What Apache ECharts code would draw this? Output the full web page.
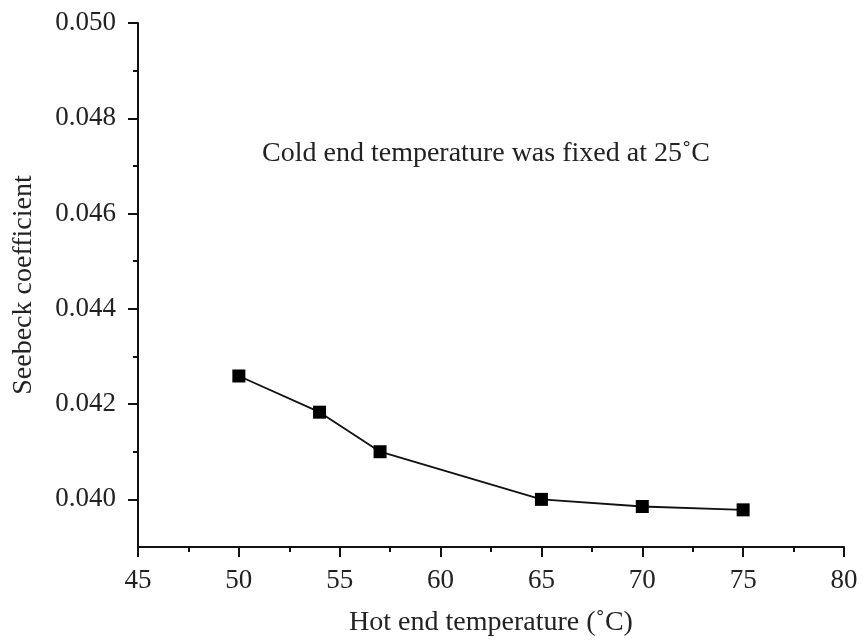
<!DOCTYPE html>
<html>
<head>
<meta charset="utf-8">
<script src="https://cdn.jsdelivr.net/npm/echarts@6/dist/echarts.min.js"></script>
<style>html,body{margin:0;padding:0;background:#fff;}#c{width:862px;height:642px;}</style>
</head>
<body>
<div id="c"></div>
<script>
const hotTemps = [50, 54, 57, 65, 70, 75];
const seebeck = [0.04259, 0.04183, 0.04100, 0.04000, 0.03985, 0.03978];
const yMajorTicks = [0.040, 0.042, 0.044, 0.046, 0.048, 0.050];
const yMinorTicks = [0.041, 0.043, 0.045, 0.047, 0.049];
const xTitle = 'Hot end temperature (\u02DAC)';
const yTitle = 'Seebeck coefficient';
const note = 'Cold end temperature was fixed at 25\u02DAC';

const FONT = 'Liberation Serif';
const TXT = '#222';
const chart = echarts.init(document.getElementById('c'));
chart.setOption({
  backgroundColor: '#fff',
  animation: false,
  grid: { left: 138, right: 18, top: 23, bottom: 94 },
  xAxis: {
    type: 'value', min: 45, max: 80, interval: 5,
    name: xTitle, nameLocation: 'middle', nameGap: 62,
    nameTextStyle: { fontFamily: FONT, fontSize: 28, color: TXT },
    axisLine: { lineStyle: { color: '#111', width: 2 } },
    axisTick: { show: true, inside: false, length: 10, lineStyle: { color: '#111', width: 2 } },
    minorTick: { show: true, splitNumber: 2, length: 5, lineStyle: { color: '#111', width: 2 } },
    axisLabel: { fontFamily: FONT, fontSize: 27, color: TXT, margin: 20 },
    splitLine: { show: false }
  },
  yAxis: [{
    type: 'value', min: 0.039, max: 0.050,
    name: yTitle, nameLocation: 'middle', nameGap: 100,
    nameTextStyle: { fontFamily: FONT, fontSize: 28, color: TXT },
    axisLine: { show: true, lineStyle: { color: '#111', width: 2 } },
    axisTick: { show: true, inside: false, length: 10, customValues: yMajorTicks, lineStyle: { color: '#111', width: 2 } },
    axisLabel: { fontFamily: FONT, fontSize: 27, color: TXT, margin: 22, customValues: yMajorTicks,
      formatter: v => v.toFixed(3) },
    splitLine: { show: false }
  }, {
    type: 'value', min: 0.039, max: 0.050, position: 'left',
    axisLine: { show: false },
    axisTick: { show: true, inside: false, length: 5, customValues: yMinorTicks, lineStyle: { color: '#111', width: 2 } },
    axisLabel: { show: false },
    splitLine: { show: false }
  }],
  graphic: [{
    type: 'text', x: 486, y: 154,
    style: { text: note, fontFamily: FONT, fontSize: 28, fill: TXT, align: 'center', verticalAlign: 'middle' }
  }],
  series: [{
    type: 'line',
    data: hotTemps.map((t, i) => [t, seebeck[i]]),
    symbol: 'rect', symbolSize: 13,
    lineStyle: { color: '#111', width: 1.8 },
    itemStyle: { color: '#000' }
  }]
});
</script>
</body>
</html>
